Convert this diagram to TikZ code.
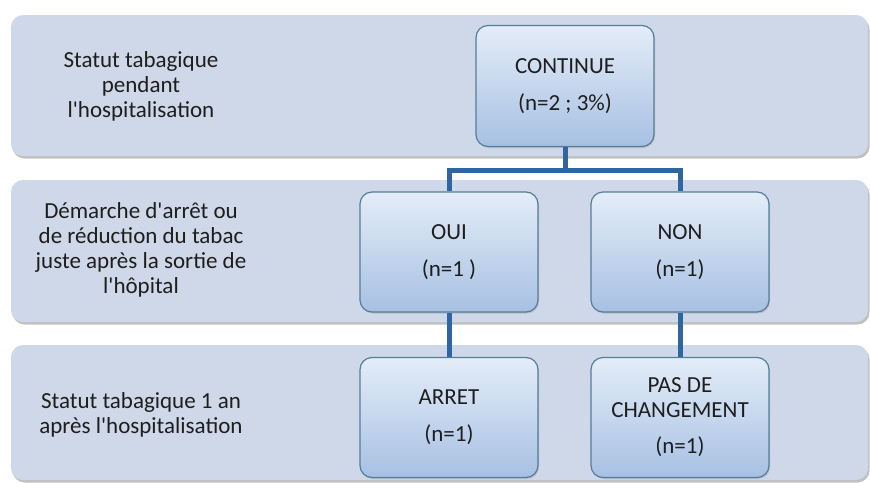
\documentclass[tikz,border=0pt]{standalone}
\usepackage{fontspec}
\setmainfont{Carlito}
\usepackage{xcolor}
\usepackage{tikz}
\usetikzlibrary{shadows}
\definecolor{bandfill}{RGB}{207,216,232}
\definecolor{boxtop}{RGB}{228,237,248}
\definecolor{boxbot}{RGB}{167,192,227}
\definecolor{boxline}{RGB}{84,126,155}
\definecolor{linkblue}{RGB}{46,101,162}
\definecolor{txt}{RGB}{30,30,30}
\newcommand{\apos}{\textquotesingle}
\tikzset{
  band/.style={rectangle, rounded corners=12pt, fill=bandfill, draw=none,
               minimum width=857pt,
               drop shadow={shadow xshift=1.5pt, shadow yshift=-2.5pt,
                            opacity=0.35, fill=black!70}},
  boite/.style={rectangle, rounded corners=12pt, draw=boxline, line width=1.2pt,
                top color=boxtop, bottom color=boxbot,
                minimum width=178pt, minimum height=120pt, align=center,
                text=txt, font=\fontsize{23}{25}\selectfont,
                drop shadow={shadow xshift=1pt, shadow yshift=-1.5pt, opacity=0.3}},
  lab/.style={align=center, text=txt, font=\fontsize{23}{25}\selectfont},
  lien/.style={draw=linkblue, line width=5pt}
}
\begin{document}
\begin{tikzpicture}[x=1pt,y=-1pt]
  \useasboundingbox (0,0) rectangle (870,482);
  \node[band, minimum height=141pt] (r1) at (439.5,85.5) {};
  \node[band, minimum height=142pt] (r2) at (439.5,251) {};
  \node[band, minimum height=135pt] (r3) at (439.5,412.5) {};
  \node[lab] (l1) at (141,86) {Statut tabagique\\pendant\\l\apos hospitalisation};
  \node[lab] (l2) at (141,250) {Démarche d\apos arrêt ou\\de réduction du tabac\\juste après la sortie de\\l\apos hôpital};
  \node[lab] (l3) at (141,415) {Statut tabagique 1 an\\après l\apos hospitalisation};
  \node[boite, minimum height=121pt] (cont) at (565,86) {CONTINUE\\[12pt](n=2 ; 3\%)};
  \node[boite] (oui) at (449,252) {OUI\\[12pt](n=1 )};
  \node[boite] (non) at (680,252) {NON\\[12pt](n=1)};
  \node[boite] (arret) at (449,417.5) {ARRET\\[12pt](n=1)};
  \node[boite] (pasch) at (680,417.5) {PAS DE\\CHANGEMENT\\[11pt](n=1)};
  \draw[lien] (cont.south) -- ++(0,23) -| (oui.north);
  \draw[lien] (cont.south) -- ++(0,23) -| (non.north);
  \draw[lien] (oui) -- (arret);
  \draw[lien] (non) -- (pasch);
\end{tikzpicture}
\end{document}
